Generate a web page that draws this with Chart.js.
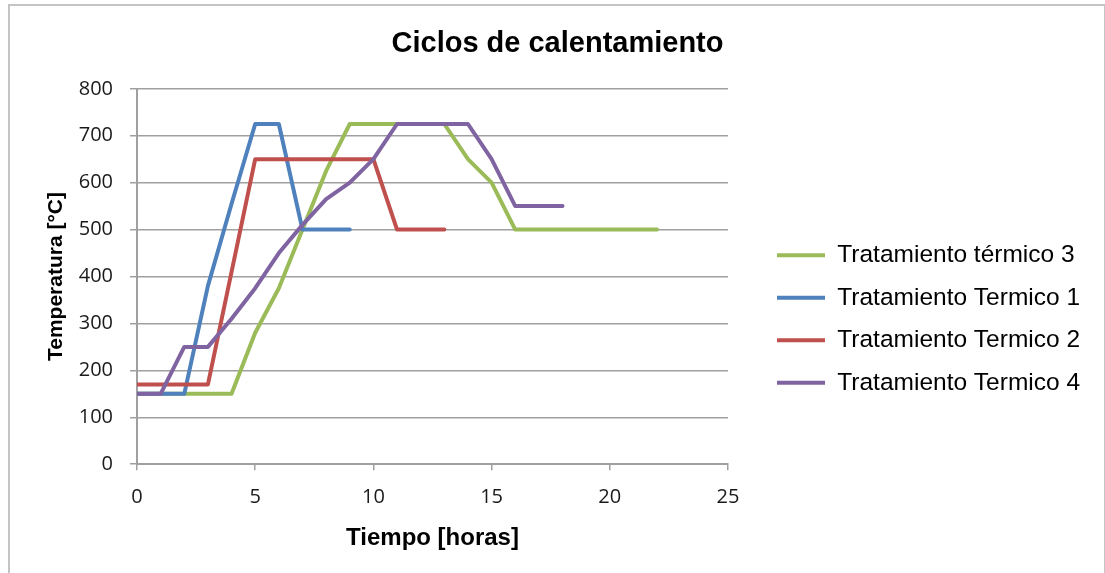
<!DOCTYPE html>
<html lang="es">
<head>
<meta charset="UTF-8">
<title>Ciclos de calentamiento</title>
<script src="https://cdn.jsdelivr.net/npm/chart.js"></script>
<style>
    body { margin: 0; background: #fff; }
    #frame {
        position: absolute; left: 8px; top: 4px; width: 1094px; height: 580px;
        border: 2px solid #c4c4c4;
    }
    #wrap { position: absolute; left: 0; top: 0; width: 1105px; height: 573px; }
</style>
</head>
<body>
<div id="frame"></div>
<div id="wrap"><canvas id="chart"></canvas></div>
<script>
// horas (eje x) y temperaturas de cada tratamiento
const horas = [0, 1, 2, 3, 4, 5, 6, 7, 8, 9, 10, 11, 12, 13, 14, 15, 16, 17, 18, 19, 20, 21, 22];
const termico3 = [150, 150, 150, 150, 150, 280, 375, 500, 625, 725, 725, 725, 725, 725, 650, 600, 500, 500, 500, 500, 500, 500, 500];
const termico1 = [150, 150, 150, 380, 555, 725, 725, 500, 500, 500];
const termico2 = [170, 170, 170, 170, 410, 650, 650, 650, 650, 650, 650, 500, 500, 500];
const termico4 = [150, 150, 250, 250, 310, 375, 450, 510, 565, 600, 650, 725, 725, 725, 725, 650, 550, 550, 550];
const yTicks = [0, 100, 200, 300, 400, 500, 600, 700, 800];
const xTicks = [0, 5, 10, 15, 20, 25];

function puntos(serie) {
    return serie.map((v, i) => ({ x: horas[i], y: v }));
}

const sans = "'Liberation Sans', Arial, sans-serif";
const tickFont = "'Open Sans', sans-serif";
const gris = '#a0a0a0';

function serie(label, data, color, order) {
    return {
        label: label, data: puntos(data), order: order,
        borderColor: color, backgroundColor: color,
        pointBorderColor: color, pointBackgroundColor: color,
        borderWidth: 4, pointBorderWidth: 4
    };
}

// la leyenda ocupa todo el hueco de la derecha y se coloca a mano
const ajusteLeyenda = {
    id: 'ajusteLeyenda',
    afterInit(chart) {
        const lg = chart.legend;
        const fit = lg.fit;
        lg.fit = function () {
            fit.call(this);
            this.width = 357;
        };
    },
    afterLayout(chart) {
        const lg = chart.legend;
        const dx = 759 - lg.left;
        lg.left += dx; lg.right += dx;
        const dy = 225 - lg.top;
        lg.top += dy; lg.bottom += dy;
    }
};

new Chart(document.getElementById('chart'), {
    type: 'line',
    data: {
        datasets: [
            serie('Tratamiento térmico 3', termico3, '#9BBB59', 3),
            serie('Tratamiento Termico 1', termico1, '#4F81BD', 2),
            serie('Tratamiento Termico 2', termico2, '#C0504D', 1),
            serie('Tratamiento Termico 4', termico4, '#8064A2', 0)
        ]
    },
    options: {
        responsive: true,
        maintainAspectRatio: false,
        animation: false,
        elements: {
            point: { radius: 0 },
            line: { tension: 0, borderCapStyle: 'round', borderJoinStyle: 'round' }
        },
        layout: { padding: { left: 30, right: 20, top: 4, bottom: 16 } },
        plugins: {
            tooltip: { enabled: false },
            title: {
                display: true,
                text: 'Ciclos de calentamiento',
                color: '#000',
                font: { family: sans, size: 29, weight: 'bold' },
                padding: { top: 23, bottom: 27 }
            },
            legend: {
                position: 'right',
                align: 'start',
                labels: {
                    usePointStyle: true,
                    pointStyle: 'line',
                    pointStyleWidth: 48,
                    padding: 18,
                    color: '#000',
                    font: { family: sans, size: 24.5 },
                    sort: (a, b) => a.datasetIndex - b.datasetIndex
                }
            }
        },
        scales: {
            x: {
                type: 'linear',
                min: 0, max: 25,
                afterBuildTicks: (s) => { s.ticks = xTicks.map(v => ({ value: v })); },
                grid: { drawOnChartArea: false, color: gris, lineWidth: 1.5, tickLength: 6 },
                border: { color: gris, width: 2 },
                ticks: { color: '#1a1a1a', padding: 15, font: { family: tickFont, size: 20 } },
                title: {
                    display: true, text: 'Tiempo [horas]', color: '#000',
                    font: { family: sans, size: 24, weight: 'bold' },
                    padding: { top: 0, bottom: 4 }
                }
            },
            y: {
                min: 0, max: 800,
                afterBuildTicks: (s) => { s.ticks = yTicks.map(v => ({ value: v })); },
                afterFit: (s) => { s.width = 107; },
                grid: { color: gris, lineWidth: 1.5, tickLength: 7 },
                border: { color: gris, width: 2 },
                ticks: { color: '#1a1a1a', padding: 17, font: { family: tickFont, size: 20 } },
                title: {
                    display: true, text: 'Temperatura [°C]', color: '#000',
                    font: { family: sans, size: 21, weight: 'bold' },
                    padding: { top: 14, bottom: 0 }
                }
            }
        }
    },
    plugins: [ajusteLeyenda]
});
</script>
</body>
</html>
